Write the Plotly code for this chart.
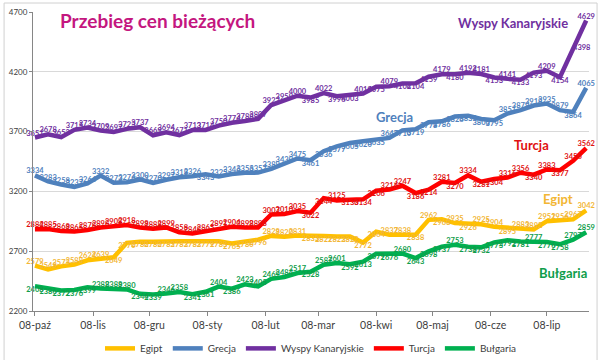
import plotly.graph_objects as go

dates = [
    "2008-10-08", "2008-10-15", "2008-10-22", "2008-10-29",
    "2008-11-05", "2008-11-12", "2008-11-19", "2008-11-26",
    "2008-12-03", "2008-12-10", "2008-12-17", "2008-12-24", "2008-12-31",
    "2009-01-07", "2009-01-14", "2009-01-21", "2009-01-28",
    "2009-02-04", "2009-02-11", "2009-02-18", "2009-02-25",
    "2009-03-04", "2009-03-11", "2009-03-18", "2009-03-25",
    "2009-04-01", "2009-04-08", "2009-04-15", "2009-04-22", "2009-04-29",
    "2009-05-06", "2009-05-13", "2009-05-20", "2009-05-27",
    "2009-06-03", "2009-06-10", "2009-06-17", "2009-06-24",
    "2009-07-01", "2009-07-08", "2009-07-15", "2009-07-22", "2009-07-29",
]

egipt = [2579, 2548, 2573, 2588, 2624, 2639, 2649, 2770, 2780, 2780, 2785, 2783, 2783,
         2779, 2783, 2765, 2780, 2796, 2828, 2820, 2831, 2833, 2827, 2823, 2822, 2772,
         2864, 2837, 2838, 2838, 2962, 2968, 2935, 2926, 2925, 2904, 2895, 2883, 2882,
         2951, 2956, 2967, 3042]
grecja = [3334, 3283, 3258, 3237, 3266, 3332, 3273, 3276, 3300, 3270, 3297, 3318, 3326,
          3343, 3325, 3346, 3356, 3357, 3389, 3430, 3475, 3461, 3536, 3577, 3605, 3620,
          3635, 3647, 3710, 3719, 3778, 3786, 3826, 3833, 3806, 3795, 3851, 3879, 3918,
          3935, 3879, 3864, 4065]
wyspy = [3651, 3678, 3653, 3715, 3734, 3709, 3697, 3723, 3737, 3669, 3694, 3671, 3713,
         3714, 3750, 3774, 3788, 3807, 3922, 3959, 4000, 3985, 4022, 3996, 4003, 4019,
         4075, 4079, 4102, 4104, 4159, 4179, 4180, 4192, 4181, 4153, 4141, 4133, 4193,
         4209, 4154, 4398, 4629]
turcja = [2884, 2885, 2868, 2865, 2878, 2898, 2908, 2918, 2898, 2888, 2899, 2858, 2848,
          2865, 2891, 2904, 2898, 2898, 3007, 3010, 3035, 3022, 3144, 3125, 3130, 3134,
          3206, 3216, 3247, 3186, 3214, 3281, 3270, 3334, 3281, 3304, 3316, 3356, 3340,
          3383, 3377, 3456, 3562]
bulgaria = [2408, 2386, 2372, 2376, 2399, 2388, 2388, 2380, 2344, 2339, 2346, 2358, 2341,
            2361, 2404, 2386, 2423, 2405, 2469, 2484, 2517, 2528, 2587, 2601, 2592, 2613,
            2679, 2676, 2680, 2643, 2698, 2737, 2753, 2738, 2732, 2773, 2792, 2781, 2777,
            2776, 2758, 2797, 2859]

tick_dates = ["2008-10-08", "2008-11-08", "2008-12-08", "2009-01-08", "2009-02-08",
              "2009-03-08", "2009-04-08", "2009-05-08", "2009-06-08", "2009-07-08"]
tick_labels = ["08-paź", "08-lis", "08-gru", "08-sty", "08-lut",
               "08-mar", "08-kwi", "08-maj", "08-cze", "08-lip"]
y_ticks = [2200, 2700, 3200, 3700, 4200, 4700]

# label placement (a = above, b = below, r = right)
pos_egipt = "aaaaaab" + "bbbbbbbbbbb" + "aaa" + "bbbbb" + "baabababaaba"
pos_grecja = "aaaaaaaaaaaaaba" + "aaaaaa" + "bbbbbb" + "a" + "bbbbbbbb" + "aaaaaba"
pos_wyspy = "a" * 21 + "babbabab" + "bbaba" + "aba" + "bbab" + "ra"
pos_turcja = "a" * 21 + "bbabb" + "baabbab" + "abbaab" + "abaa"
pos_bulgaria = "bbbbb" + "aaa" + "bba" + "abbab" + "aaaaa" + "ba" + "a" + "bbbb" + "abbba" + "bbbbbab" + "ba"

FONT = "Lato"
POSMAP = {"a": "top center", "b": "bottom center", "r": "middle right"}

series = [
    ("Egipt", egipt, "#FFC000", "#F2B634", pos_egipt),
    ("Grecja", grecja, "#4F81BD", "#4F81BD", pos_grecja),
    ("Wyspy Kanaryjskie", wyspy, "#7030A0", "#7030A0", pos_wyspy),
    ("Turcja", turcja, "#FF0000", "#E01010", pos_turcja),
    ("Bułgaria", bulgaria, "#00B050", "#0F9D4A", pos_bulgaria),
]

fig = go.Figure()
for name, vals, col, tcol, pos in series:
    pos = (pos + "a" * len(vals))[:len(vals)]
    fig.add_trace(go.Scatter(
        x=dates, y=vals, name=name, mode="lines+text",
        line=dict(color=col, width=4.5),
        text=[str(v) for v in vals],
        textposition=[POSMAP[p] for p in pos],
        textfont=dict(family=FONT, size=7.5, color=tcol, weight="bold"),
        cliponaxis=False,
        hoverinfo="x+y+name",
    ))

fig.update_layout(
    width=600, height=360,
    margin=dict(l=33, r=11, t=12, b=49, autoexpand=False),
    paper_bgcolor="white", plot_bgcolor="white",
    font=dict(family=FONT, color="#404040"),
    showlegend=True,
    legend=dict(orientation="h", x=0.5, xanchor="center", y=-0.125, yanchor="middle",
                font=dict(size=10, color="#404040"), itemwidth=30, tracegroupgap=0,
                bgcolor="rgba(0,0,0,0)"),
    xaxis=dict(
        type="date", range=["2008-10-06 23:00", "2009-07-30 12:00"],
        tickvals=tick_dates, ticktext=tick_labels, automargin=False,
        showgrid=False, showline=True, linecolor="#868686", linewidth=1,
        ticks="outside", ticklen=4, tickcolor="#868686",
        tickfont=dict(size=10.5, color="#404040"), zeroline=False,
    ),
    yaxis=dict(
        range=[2200, 4700], tickvals=y_ticks, automargin=False,
        showgrid=True, gridcolor="#D9D9D9", gridwidth=1,
        showline=True, linecolor="#868686", linewidth=1,
        ticks="outside", ticklen=3, tickcolor="#868686",
        tickfont=dict(size=8, color="#404040"), zeroline=False,
    ),
)

annos = [
    ("Przebieg cen bieżących", 0.224, 0.973, "#C4177F", 19),
    ("Wyspy Kanaryjskie", 0.864, 0.963, "#7030A0", 13),
    ("Grecja", 0.651, 0.649, "#4F81BD", 13),
    ("Turcja", 0.897, 0.555, "#E01010", 13),
    ("Egipt", 0.944, 0.375, "#F2B634", 13),
    ("Bułgaria", 0.953, 0.127, "#0F9D4A", 13),
]
for txt, ax, ay, c, s in annos:
    fig.add_annotation(text=txt, x=ax, y=ay, xref="paper", yref="paper",
                       xanchor="center", yanchor="middle", showarrow=False,
                       font=dict(family=FONT, size=s, color=c, weight="bold"))

fig.add_shape(type="rect", xref="paper", yref="paper",
              x0=-0.052, x1=1.0145, y0=-0.2, y1=1.03,
              line=dict(color="#D0D0D0", width=1), fillcolor="rgba(0,0,0,0)", layer="below")

fig.write_html(
    "out.html",
    config={"displayModeBar": False},
    post_script="document.body.style.margin='0px';document.body.style.overflow='hidden';",
)
